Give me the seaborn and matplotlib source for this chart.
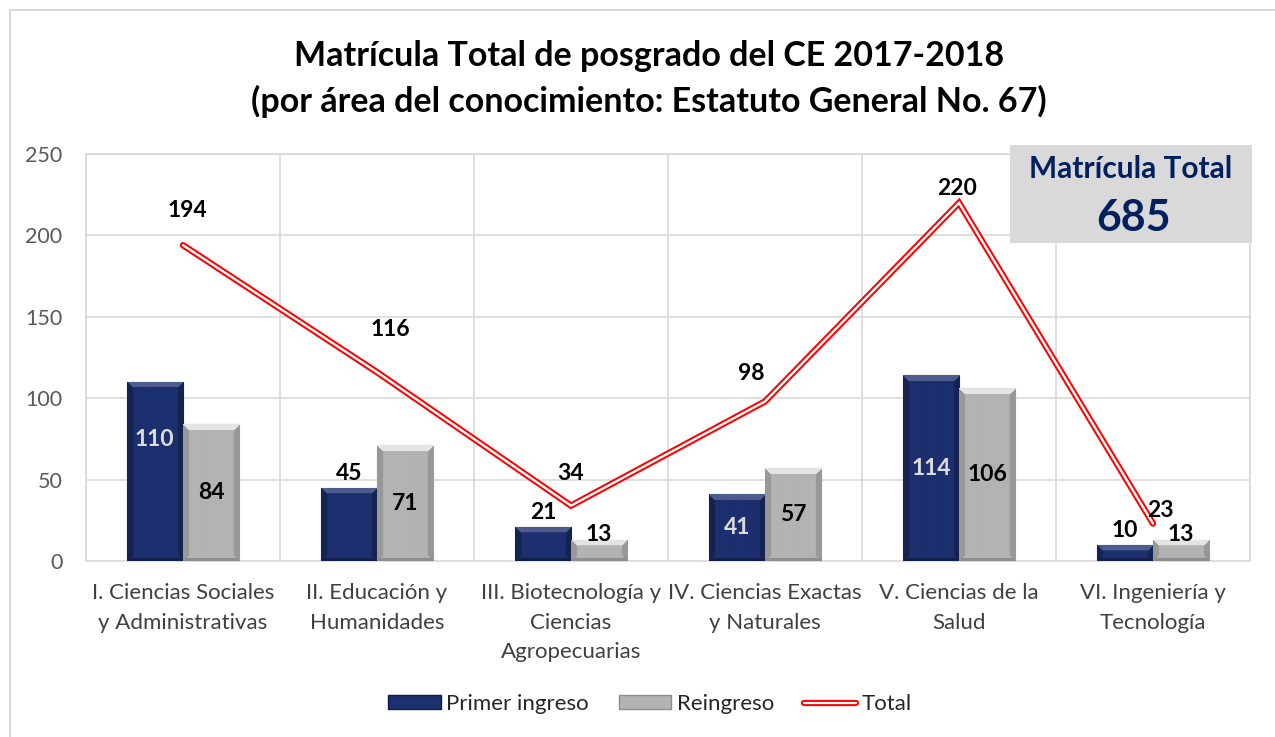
import matplotlib
matplotlib.use("Agg")
import matplotlib.pyplot as plt
import seaborn as sns
import pandas as pd
import numpy as np
from matplotlib.patches import Rectangle, Patch
from matplotlib.lines import Line2D
import matplotlib.patheffects as pe
from matplotlib.colors import to_rgb

categories = ["I. Ciencias Sociales\ny Administrativas",
              "II. Educación y\nHumanidades",
              "III. Biotecnología y\nCiencias\nAgropecuarias",
              "IV. Ciencias Exactas\ny Naturales",
              "V. Ciencias de la\nSalud",
              "VI. Ingeniería y\nTecnología"]
primer_ingreso = [110, 45, 21, 41, 114, 10]
reingreso = [84, 71, 13, 57, 106, 13]
total = [194, 116, 34, 98, 220, 23]
series_names = ["Primer ingreso", "Reingreso", "Total"]
title_lines = ["Matrícula Total de posgrado del CE 2017-2018",
               "(por área del conocimiento: Estatuto General No. 67)"]
box_title = "Matrícula Total"
box_value = "685"
yticks = [0, 50, 100, 150, 200, 250]

# label placement style: 'in' = inside bar, 'out' = above bar
primer_label_pos = ["in", "out", "out", "in", "in", "out"]
reing_label_pos = ["in", "in", "out", "in", "in", "out"]

sns.set_theme(style="white")
plt.rcParams['font.family'] = ['Lato', 'DejaVu Sans']

NAVY = "#1c2f6e"
GRAY = "#b3b3b3"

fig = plt.figure(figsize=(12.75, 7.37), dpi=100)
ax = fig.add_axes([86/1275, 1-561/737, (1250-86)/1275, (561-154)/737])

df = pd.DataFrame({
    "cat": categories * 2,
    "val": primer_ingreso + reingreso,
    "serie": [series_names[0]] * len(categories) + [series_names[1]] * len(categories),
})
sns.barplot(data=df, x="cat", y="val", hue="serie", order=categories,
            hue_order=series_names[:2], palette=[NAVY, GRAY], width=0.58,
            saturation=1, ax=ax, legend=False, zorder=3)

x = np.arange(len(categories))
ax.set_xlim(-0.5, len(categories) - 0.5)
ax.set_ylim(0, 250)


def mix(c, other, t):
    c = np.array(to_rgb(c)); o = np.array(to_rgb(other))
    return c * (1 - t) + o * t


def bevel_image(w, h, base, light, side, bottom, b=6):
    img = np.zeros((h, w, 3))
    r = np.arange(h)[:, None] * np.ones((1, w))
    c = np.ones((h, 1)) * np.arange(w)[None, :]
    dt, db, dl, dr = r, h - 1 - r, c, w - 1 - c
    dmin = np.minimum(np.minimum(dt, db), np.minimum(dl, dr))
    img[:] = base
    side_mask = (dmin < b) & ((dl == dmin) | (dr == dmin))
    img[side_mask] = side
    bot_mask = (dmin < 3) & (db == dmin)
    img[bot_mask] = bottom
    top_mask = (dmin < b) & (dt == dmin)
    img[top_mask] = light
    return img


fig.canvas.draw()
nb = len(categories)
for i, p in enumerate(list(ax.patches)):
    bb = p.get_window_extent()
    w = max(int(round(bb.width)), 2)
    h = max(int(round(bb.height)), 2)
    if i < nb:
        img = bevel_image(w, h, to_rgb(NAVY), mix(NAVY, "white", 0.22),
                          mix(NAVY, "black", 0.25), mix(NAVY, "black", 0.3), b=6)
        p.set_edgecolor("#101c48")
    else:
        img = bevel_image(w, h, to_rgb(GRAY), mix(GRAY, "white", 0.65),
                          mix(GRAY, "black", 0.15), mix(GRAY, "black", 0.2), b=6)
        p.set_edgecolor("#8c8c8c")
    p.set_linewidth(0.8)
    im = ax.imshow(img, extent=(p.get_x(), p.get_x() + p.get_width(), p.get_y(), p.get_y() + p.get_height()),
                   aspect="auto", zorder=3.5, interpolation="bilinear")
    im.set_clip_path(p)

ax.plot(x, total, color="#ff0000", lw=4.6, zorder=4, solid_joinstyle="miter")
ax.plot(x, total, color="white", lw=1.7, zorder=5, solid_joinstyle="miter")

ax.set_xlim(-0.5, len(categories) - 0.5)
ax.set_ylim(0, 250)
ax.set_yticks(yticks)
ax.set_xticks(x)
ax.set_xticklabels(categories, fontsize=16, color="#404040", linespacing=1.6)
ax.tick_params(axis="y", labelsize=15.5, labelcolor="#595959", length=0, pad=17)
ax.tick_params(axis="x", length=0, pad=16)
ax.set_xlabel("")
ax.set_ylabel("")
for yv in yticks[1:]:
    ax.axhline(yv, color="#d9d9d9", lw=1.2, zorder=0)
for xv in np.arange(-0.5, len(categories), 1.0):
    ax.axvline(xv, color="#d9d9d9", lw=1.2, zorder=0)
for s in ax.spines.values():
    s.set_color("#d9d9d9")
    s.set_linewidth(1.2)

bw = 0.29
LFS = 16.5
for i, v in enumerate(primer_ingreso):
    xc = i - bw / 2
    if primer_label_pos[i] == "in":
        yy = v * (0.68 if v == 110 else 0.5)
        ax.text(xc, yy, str(v), ha="center", va="center",
                fontsize=LFS, fontweight="bold", color="#dcdcdc", zorder=6)
    else:
        ax.text(xc, v + 9, str(v), ha="center", va="center",
                fontsize=LFS, fontweight="bold", color="black", zorder=6)
for i, v in enumerate(reingreso):
    xc = i + bw / 2
    if reing_label_pos[i] == "in":
        ax.text(xc, v * 0.5, str(v), ha="center", va="center",
                fontsize=LFS, fontweight="bold", color="black", zorder=6)
    else:
        ax.text(xc, v + 3, str(v), ha="center", va="center",
                fontsize=LFS, fontweight="bold", color="black", zorder=6)

total_offsets = [21, 26, 20, 17, 9, 8]
total_dx = [0.02, 0.07, 0.0, -0.07, -0.01, 0.04]
for i, v in enumerate(total):
    ax.text(i + total_dx[i], v + total_offsets[i], str(v), ha="center", va="center",
            fontsize=LFS, fontweight="bold", color="black", zorder=7)

# Title
fig.text(0.509, 1 - 56/737, title_lines[0], ha="center", va="center",
         fontsize=24.5, fontweight="bold", color="black")
fig.text(0.509, 1 - 101/737, title_lines[1], ha="center", va="center",
         fontsize=24.5, fontweight="bold", color="black")

# Total box
fig.patches.append(Rectangle((1010/1275, 1-243/737), 242/1275, 98/737,
                             transform=fig.transFigure, facecolor="#d9d9d9",
                             edgecolor="none", zorder=10))
fig.text(1131/1275, 1-169/737, box_title, ha="center", va="center",
         fontsize=21.5, fontweight="bold", color="#002060", zorder=11)
fig.text(1134/1275, 1-218/737, box_value, ha="center", va="center",
         fontsize=31, fontweight="bold", color="#002060", zorder=11)

# outer frame
fig.add_artist(Line2D([10/1275, 10/1275], [0, 1-10/737], transform=fig.transFigure,
                      color="#d9d9d9", lw=1.5))
fig.add_artist(Line2D([10/1275, 1], [1-10/737, 1-10/737], transform=fig.transFigure,
                      color="#d9d9d9", lw=1.5))

# Legend
handles = [Patch(facecolor=NAVY, edgecolor="#101c48", label=series_names[0]),
           Patch(facecolor=GRAY, edgecolor="#8c8c8c", label=series_names[1]),
           Line2D([0], [0], color="#ff0000", lw=4.5, label=series_names[2],
                  path_effects=[pe.Stroke(linewidth=4.5, foreground="#ff0000"),
                                pe.Stroke(linewidth=1.6, foreground="white")])]
fig.legend(handles=handles, loc="center", bbox_to_anchor=(650/1275, 1-704/737),
           ncol=3, frameon=False, fontsize=16, handlelength=2.35, handleheight=0.6,
           columnspacing=1.35, handletextpad=0.25)

fig.savefig("out.png", dpi=100, facecolor="white")
